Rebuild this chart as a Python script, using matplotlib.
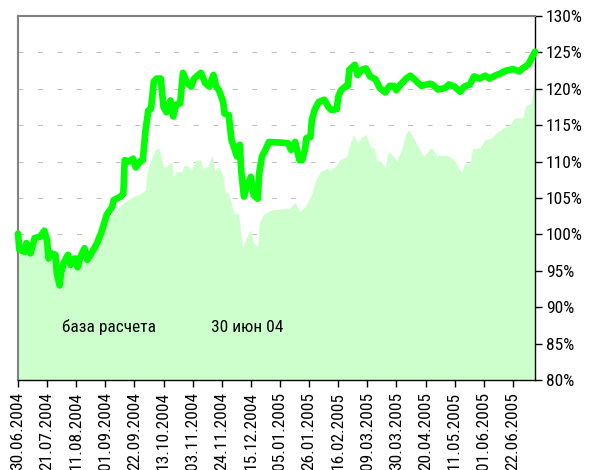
import pandas as pd
import numpy as np
import matplotlib
matplotlib.use("Agg")
import matplotlib.pyplot as plt
import matplotlib.dates as mdates
from matplotlib import font_manager
from matplotlib.ft2font import FT2Font
from matplotlib.ticker import PercentFormatter, FixedLocator

# the original uses a narrow Arial-like face with Cyrillic; pick one if installed
def has_cyrillic(path):
    try:
        return ord('б') in FT2Font(path).get_charmap()
    except Exception:
        return False

preferred = ['Liberation Sans Narrow', 'Arial Narrow', 'Roboto Condensed', 'PT Sans Narrow',
             'Open Sans Condensed', 'Noto Sans Condensed', 'Fira Sans Condensed',
             'IBM Plex Sans Condensed', 'Archivo Narrow', 'Barlow Condensed']
candidates = {}
for f in font_manager.fontManager.ttflist:
    if ('Narrow' in f.name or 'Condensed' in f.name) and f.style == 'normal' \
            and f.weight in (400, 'normal', 'regular'):
        if f.name not in candidates and has_cyrillic(f.fname):
            candidates[f.name] = f.fname
narrow_font = None
for n in preferred:
    if n in candidates:
        narrow_font = n
        break
if narrow_font is None and candidates:
    narrow_font = sorted(candidates)[0]

if narrow_font:
    plt.rcParams['font.family'] = [narrow_font, 'Liberation Sans', 'DejaVu Sans']
    xlab_size = 12.5
else:
    plt.rcParams['font.family'] = ['Liberation Sans', 'DejaVu Sans']
    xlab_size = 11

start_date = pd.Timestamp('2004-06-30')

# fund line: days since 30.06.2004 and value in %
line_days = [0, 1, 5, 6, 9, 12, 16, 19, 21, 22, 24, 27, 28, 30, 31, 33, 36, 38, 41, 43,
             45, 48, 50, 53, 57, 60, 64, 68, 69, 74, 76, 77, 80, 83, 85, 88, 90, 92, 94, 96,
             98, 100, 103, 105, 107, 110, 112, 114, 117, 119, 122, 125, 127, 132, 135, 138,
             141, 143, 145, 148, 149, 152, 154, 158, 160, 161, 163, 165, 168, 170, 173, 174,
             176, 179, 181, 191, 195, 197, 200, 203, 205, 207, 208, 211, 212, 214, 217, 221,
             224, 226, 230, 231, 233, 236, 238, 239, 243, 245, 248, 251, 254, 258, 261, 265,
             268, 271, 273, 276, 280, 283, 286, 291, 297, 299, 303, 308, 311, 315, 319, 322,
             326, 329, 333, 337, 340, 344, 348, 352, 357, 362, 364, 368, 370, 373]
line_vals = [100.1, 97.9, 97.6, 98.8, 97.4, 99.5, 99.7, 100.5, 99.2, 96.7, 97.4, 97.2, 94.7,
             93.0, 94.7, 96.1, 97.2, 95.8, 96.7, 95.5, 96.9, 98.1, 96.5, 97.4, 98.8, 100.2,
             102.7, 103.8, 104.7, 105.2, 105.6, 110.2, 110.0, 110.4, 109.2, 110.0, 110.2,
             114.3, 117.0, 117.3, 121.0, 121.4, 121.4, 117.5, 116.8, 118.4, 116.2, 117.8,
             118.0, 122.2, 120.8, 120.3, 121.4, 122.2, 120.8, 120.3, 121.9, 120.3, 119.8,
             118.2, 116.6, 116.4, 113.0, 110.7, 112.3, 108.8, 105.2, 106.6, 107.9, 105.4,
             104.9, 108.4, 110.7, 111.8, 112.7, 112.6, 112.5, 111.6, 112.7, 110.2, 110.2,
             111.6, 113.2, 113.4, 115.7, 117.1, 118.2, 118.5, 117.5, 117.1, 117.2, 118.9,
             119.8, 120.3, 120.4, 122.6, 123.3, 121.9, 122.6, 122.8, 121.7, 121.3, 120.1,
             119.5, 120.4, 120.4, 119.8, 120.6, 121.4, 121.8, 121.3, 120.4, 120.7, 120.6,
             119.9, 120.1, 120.6, 120.3, 119.6, 120.3, 120.6, 121.7, 121.4, 121.8, 121.4,
             121.8, 122.1, 122.5, 122.7, 122.4, 122.8, 123.3, 124.0, 125.1]

# benchmark area: days since 30.06.2004 and value in %
area_days = [0, 3, 9, 13, 18, 21, 23, 28, 30, 32, 36, 39, 43, 46, 50, 56, 59, 63, 66, 76,
             83, 88, 92, 93, 95, 99, 102, 105, 107, 111, 112, 114, 118, 120, 123, 125, 128,
             132, 133, 137, 140, 142, 145, 148, 149, 152, 156, 159, 162, 165, 168, 170, 173,
             174, 177, 180, 184, 196, 200, 203, 208, 212, 214, 218, 223, 225, 229, 232, 237,
             239, 242, 245, 248, 251, 254, 257, 259, 262, 265, 267, 271, 273, 277, 280, 282,
             286, 290, 293, 297, 299, 302, 309, 315, 318, 320, 322, 326, 328, 333, 337, 341,
             345, 350, 355, 358, 364, 366, 370, 372, 373]
area_vals = [100.0, 98.3, 97.8, 99.3, 101.4, 99.6, 97.3, 95.3, 93.8, 95.3, 96.8, 95.4, 96.0,
             97.4, 96.4, 98.0, 99.4, 101.5, 102.4, 104.3, 105.2, 105.6, 106.1, 108.4, 109.7,
             111.7, 111.8, 109.3, 109.3, 110.0, 107.9, 108.6, 108.6, 109.5, 109.4, 108.8,
             110.2, 110.2, 109.1, 109.3, 110.9, 108.8, 109.3, 107.9, 105.9, 105.6, 102.7,
             102.9, 98.1, 99.7, 100.6, 98.8, 98.4, 101.5, 102.7, 103.1, 103.4, 103.6, 104.4,
             103.1, 104.0, 105.6, 107.0, 108.6, 109.1, 108.9, 109.3, 110.2, 110.7, 112.1,
             113.7, 112.5, 113.4, 113.7, 112.1, 111.8, 110.2, 110.0, 109.2, 111.4, 110.7,
             110.0, 111.8, 113.9, 114.4, 113.0, 111.6, 110.7, 111.8, 111.8, 110.8, 110.9,
             110.2, 109.1, 108.5, 109.7, 109.7, 111.8, 111.8, 113.0, 113.2, 113.9, 114.6,
             115.1, 116.0, 116.0, 117.6, 118.0, 120.3, 121.2]

tick_labels = ['30.06.2004', '21.07.2004', '11.08.2004', '01.09.2004', '22.09.2004',
               '13.10.2004', '03.11.2004', '24.11.2004', '15.12.2004', '05.01.2005',
               '26.01.2005', '16.02.2005', '09.03.2005', '30.03.2005', '20.04.2005',
               '11.05.2005', '01.06.2005', '22.06.2005']
y_ticks = [80, 85, 90, 95, 100, 105, 110, 115, 120, 125, 130]

line_dates = start_date + pd.to_timedelta(line_days, unit='D')
area_dates = start_date + pd.to_timedelta(area_days, unit='D')
tick_dates = pd.to_datetime(tick_labels, format='%d.%m.%Y')

fig = plt.figure(figsize=(5.89, 4.70), dpi=100)
ax = fig.add_axes([18/589, 90/470, 517/589, 364/470])

# dashed grid behind the area
for y in y_ticks[1:-1]:
    ax.axhline(y, color='#C0C0C0', lw=0.75, dashes=(4.8, 13.9), zorder=0)

ax.fill_between(area_dates, 80, area_vals, color='#CCFFCC', lw=0, zorder=1)
ax.plot(line_dates, line_vals, color='#00FF00', lw=4.8, solid_joinstyle='round',
        solid_capstyle='round', zorder=3, clip_on=False)

ax.set_xlim(start_date, start_date + pd.Timedelta(days=373))
ax.set_ylim(80, 130)

ax.xaxis.set_major_locator(FixedLocator(mdates.date2num(tick_dates)))
ax.xaxis.set_major_formatter(mdates.DateFormatter('%d.%m.%Y'))
ax.tick_params(axis='x', direction='out', length=5, width=1, labelsize=xlab_size,
               rotation=90, pad=3.5)

ax.yaxis.tick_right()
ax.set_yticks(y_ticks)
ax.yaxis.set_major_formatter(PercentFormatter(decimals=0))
ax.tick_params(axis='y', direction='out', length=5, width=1, labelsize=12.5, pad=3)

for side in ['left', 'top']:
    ax.spines[side].set_color('#808080')
    ax.spines[side].set_linewidth(1.5)
for side in ['right', 'bottom']:
    ax.spines[side].set_color('black')
    ax.spines[side].set_linewidth(1)

ax.text(0.086, 0.145, 'база расчета', transform=ax.transAxes, fontsize=12.5,
        va='center', ha='left')
ax.text(0.373, 0.145, '30 июн 04', transform=ax.transAxes, fontsize=12.5,
        va='center', ha='left')

fig.savefig('out.png', dpi=100)
